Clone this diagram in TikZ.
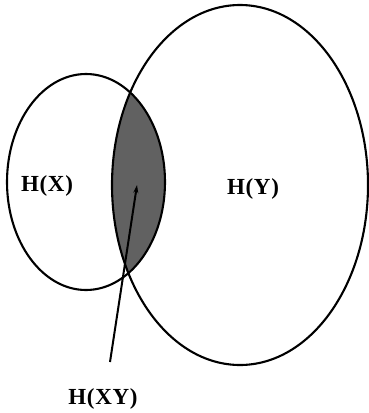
\documentclass[tikz,border=0pt]{standalone}
\usepackage{fontspec}
\usepackage{tikz}
\usetikzlibrary{arrows.meta,positioning,calc}

\newfontfamily\labelfont[LetterSpace=3]{Liberation Serif}

\begin{document}
\begin{tikzpicture}[
    x=1pt, y=-1pt,
    >={Stealth[length=8pt,width=5pt]},
    set/.style={draw, line width=2.1pt},
    lens/.style={fill=black!62},
    label/.style={font=\labelfont\fontsize{23}{23}\selectfont\bfseries, inner sep=0pt},
    connector/.style={->, line width=2pt}
]
    \useasboundingbox (0,0) rectangle (369,413);

    \coordinate (cX) at (86,182);
    \coordinate (cY) at (240,185);

    % shaded common part
    \begin{scope}
        \clip (cX) ellipse [x radius=79, y radius=108];
        \fill [lens] (cY) ellipse [x radius=128, y radius=180];
    \end{scope}

    \draw [set] (cX) ellipse [x radius=79, y radius=108];
    \draw [set] (cY) ellipse [x radius=128, y radius=180];

    \node [label] (HX) at (47,186) {H(X)};
    \node [label] (HY) at (253,189) {H(Y)};
    \node [label] (HXY) at (103,399) {H(XY)};

    \coordinate (tail) at (110,362);
    \coordinate (tip) at (137,185);
    \draw [connector] (tail) -- (tip);

\end{tikzpicture}
\end{document}
